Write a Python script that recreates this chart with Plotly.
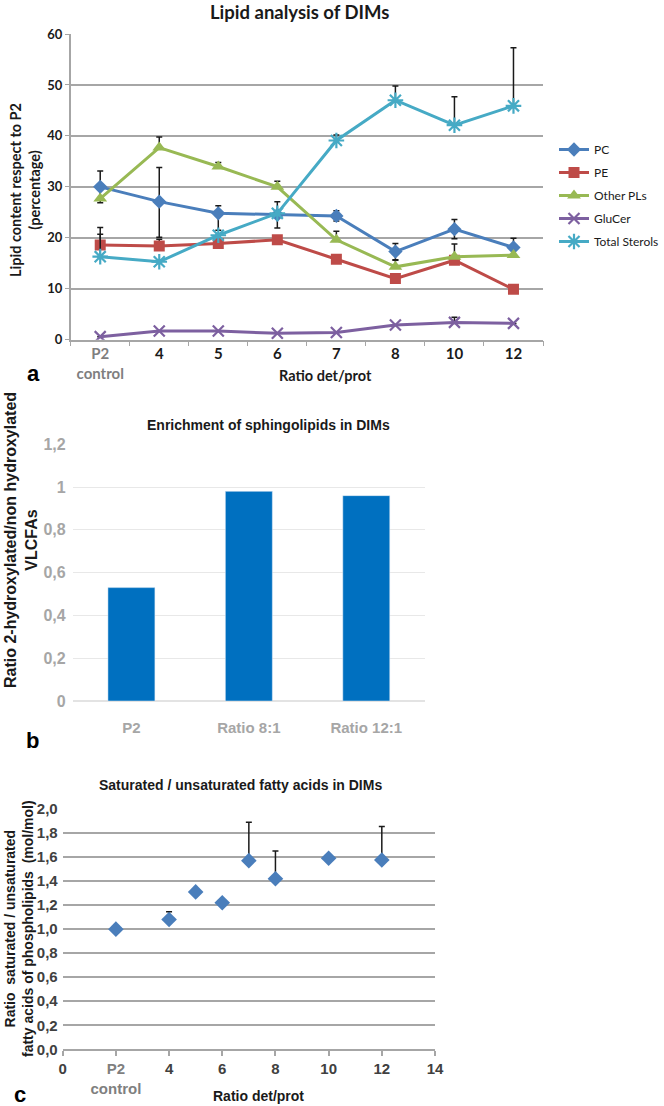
import plotly.graph_objects as go

W, H = 664, 1106

# ---------------- Panel a data ----------------
cats_a = ["P2", "4", "5", "6", "7", "8", "10", "12"]
ticktext_a = ["<span style='color:#7f7f7f'>P2</span><br><span style='color:#7f7f7f'>control</span>",
              "4", "5", "6", "7", "8", "10", "12"]
pc = [30.0, 27.1, 24.8, 24.5, 24.3, 17.3, 21.7, 18.1]
pc_err_plus = [3.1, 6.7, 1.5, 2.6, 1.0, 1.6, 1.9, 1.8]
pc_err_minus = [3.1, 7.0, 3.3, 2.6, 1.0, 1.6, 1.9, 1.8]
pe = [18.6, 18.4, 18.9, 19.6, 15.8, 12.0, 15.6, 9.9]
pe_err = [3.4, 1.3, None, None, None, None, None, None]
other = [27.7, 37.7, 34.0, 30.0, 19.6, 14.3, 16.3, 16.6]
other_err = [None, 2.1, 0.8, 1.1, 1.7, 1.3, 2.5, None]
glucer = [0.6, 1.7, 1.7, 1.25, 1.4, 2.9, 3.4, 3.2]
glucer_err = [None, None, None, None, None, None, 1.0, None]
sterols = [16.3, 15.3, 20.5, 24.8, 39.1, 47.0, 42.1, 45.9]
sterols_err = [4.4, None, None, None, 1.1, 2.8, 5.6, 11.4]

# ---------------- Panel b data ----------------
cats_b = ["P2", "Ratio 8:1", "Ratio 12:1"]
vlcfa_ratio = [0.53, 0.98, 0.96]

# ---------------- Panel c data ----------------
x_c = [2, 4, 5, 6, 7, 8, 10, 12]
sat_ratio = [1.00, 1.08, 1.31, 1.22, 1.57, 1.42, 1.59, 1.575]
sat_err = [None, 0.065, None, None, 0.32, 0.23, None, 0.28]
tickvals_c = [0, 2, 4, 6, 8, 10, 12, 14]
ticktext_c = ["0", "<span style='color:#7f7f7f'>P2</span><br><span style='color:#7f7f7f'>control</span>",
              "4", "6", "8", "10", "12", "14"]


def px_x(p):
    return p / W


def px_y(p):
    return 1 - p / H


FA = "Lato, Open Sans, sans-serif"
FB = "Liberation Sans, Arial, sans-serif"
FN = "Liberation Sans Narrow, Liberation Sans, Arial, sans-serif"

fig = go.Figure()

series = [
    ("PC", pc, "#4A7EBB", dict(symbol="diamond", size=11), pc_err_plus, pc_err_minus),
    ("PE", pe, "#BE4B48", dict(symbol="square", size=11), pe_err, None),
    ("Other PLs", other, "#98B954", dict(symbol="triangle-up", size=12), other_err, None),
    ("GluCer", glucer, "#7D60A0", dict(symbol="x-thin-open", size=11, line=dict(width=2.2, color="#7D60A0")), glucer_err, None),
    ("Total Sterols", sterols, "#46AAC5", dict(symbol="asterisk-open", size=13, line=dict(width=2.2, color="#46AAC5")), sterols_err, None),
]
for i, (name, vals, col, mk, ep, em) in enumerate(series):
    if em is None:
        em = [0 if e is not None else None for e in ep]
    mk = dict(mk)
    mk["color"] = col
    fig.add_trace(go.Scatter(
        x=cats_a, y=vals, name=name, mode="lines+markers",
        line=dict(color=col, width=3), marker=mk,
        error_y=dict(type="data", symmetric=False, array=ep, arrayminus=em,
                     color="#1a1a1a", thickness=1.5, width=3),
        xaxis="x", yaxis="y", legendgroup=name,
    ))

fig.add_trace(go.Bar(
    x=cats_b, y=vlcfa_ratio, marker=dict(color="#0070C0"), showlegend=False,
    xaxis="x2", yaxis="y2",
))

fig.add_trace(go.Scatter(
    x=x_c, y=sat_ratio, mode="markers", showlegend=False,
    marker=dict(symbol="diamond", size=12, color="#4A7EBB"),
    error_y=dict(type="data", symmetric=False, array=sat_err,
                 arrayminus=[0 if e is not None else None for e in sat_err],
                 color="#1a1a1a", thickness=1.5, width=3),
    xaxis="x3", yaxis="y3",
))

gridA = "#a6a6a6"
fig.update_layout(
    width=W, height=H, autosize=False,
    margin=dict(l=0, r=0, t=0, b=0, autoexpand=False),
    paper_bgcolor="white", plot_bgcolor="white",
    separators=",.",
    bargap=0.6,
    showlegend=True,
    legend=dict(x=px_x(554), y=px_y(135), xanchor="left", yanchor="top",
                font=dict(family=FA, size=12, color="#1a1a1a"),
                itemwidth=30, tracegroupgap=4, traceorder="grouped",
                bgcolor="rgba(0,0,0,0)"),
    xaxis=dict(domain=[px_x(70.7), px_x(543)], anchor="y", type="category",
               range=[-0.5, 7.5], tickvals=cats_a, ticktext=ticktext_a,
               showline=True, linecolor=gridA, linewidth=1.5,
               ticks="outside", tickson="boundaries", ticklen=5, tickcolor=gridA,
               showgrid=False, zeroline=False,
               tickfont=dict(family=FA, size=15, color="#1a1a1a", weight="bold")),
    yaxis=dict(domain=[px_y(339.7), px_y(34)], anchor="x", range=[0, 60], dtick=10,
               showline=True, linecolor=gridA, linewidth=1.5,
               showgrid=True, gridcolor=gridA, gridwidth=1.5, zeroline=False,
               ticks="outside", ticklen=4, tickcolor=gridA,
               tickfont=dict(family=FA, size=13, color="#1a1a1a", weight="bold")),
    xaxis2=dict(domain=[px_x(72.7), px_x(425)], anchor="y2", type="category",
                showline=False, showgrid=False, zeroline=False, ticks="",
                ticklabelstandoff=16,
                tickfont=dict(family=FB, size=15, color="#a6a6a6", weight="bold")),
    yaxis2=dict(domain=[px_y(701), px_y(444.3)], anchor="x2", range=[0, 1.2], dtick=0.2,
                showline=False, showgrid=True, gridcolor="#e8e8e8", gridwidth=1,
                zeroline=True, zerolinecolor="#e3e3e3", zerolinewidth=1.5,
                ticks="", ticklabelstandoff=6,
                tickfont=dict(family=FN, size=16, color="#a6a6a6", weight="bold")),
    xaxis3=dict(domain=[px_x(62.7), px_x(435)], anchor="y3", range=[0, 14],
                tickvals=tickvals_c, ticktext=ticktext_c,
                showline=True, linecolor=gridA, linewidth=2,
                ticks="outside", ticklen=5, tickcolor=gridA, tickwidth=1.5,
                showgrid=False, zeroline=False,
                tickfont=dict(family=FN, size=15, color="#404040", weight="bold")),
    yaxis3=dict(domain=[px_y(1049.3), px_y(809)], anchor="x3", range=[0, 2.0], dtick=0.2,
                tickformat=".1f", showline=False,
                showgrid=True, gridcolor=gridA, gridwidth=2, zeroline=False,
                ticks="", ticklabelstandoff=4,
                tickfont=dict(family=FN, size=15, color="#404040", weight="bold")),
)

ann = []


def add_text(text, x, y, size, family, color="#000", angle=0, xanchor="center", yanchor="middle", bold=True):
    ann.append(dict(text=("<b>%s</b>" % text) if bold else text, x=px_x(x), y=px_y(y),
                    xref="paper", yref="paper", showarrow=False, textangle=angle,
                    xanchor=xanchor, yanchor=yanchor,
                    font=dict(family=family, size=size, color=color)))


# Panel a
add_text("Lipid analysis of DIMs", 299, 12, 18.5, FA, "#1a1a1a")
add_text("Lipid content respect to P2<br>(percentage)", 25, 190, 14.5, FA, "#1a1a1a", angle=-90)
add_text("Ratio det/prot", 325, 375, 14.5, FA, "#1a1a1a")
add_text("a", 33, 374, 22, FB)
# Panel b
add_text("Ratio 2-hydroxylated/non hydroxylated<br>VLCFAs", 0, 540, 16, FB, "#1a1a1a",
         angle=-90, xanchor="left")
add_text("Enrichment of sphingolipids in DIMs", 268, 425, 14, FB, "#1a1a1a")
add_text("b", 32, 740, 22, FB)
# Panel c
add_text("Saturated / unsaturated fatty acids in DIMs", 240, 785, 14, FB, "#1a1a1a")
add_text("Ratio  saturated / unsaturated<br>fatty acids of phospholipids  (mol/mol)", 0, 929, 14, FB, "#1a1a1a",
         angle=-90, xanchor="left")
add_text("Ratio det/prot", 258, 1096, 14, FN, "#1a1a1a")
add_text("c", 20, 1094, 22, FB)

fig.update_layout(annotations=ann)

fig.write_html("out.html", config={"displayModeBar": False},
               post_script="document.body.style.margin='0px';")
